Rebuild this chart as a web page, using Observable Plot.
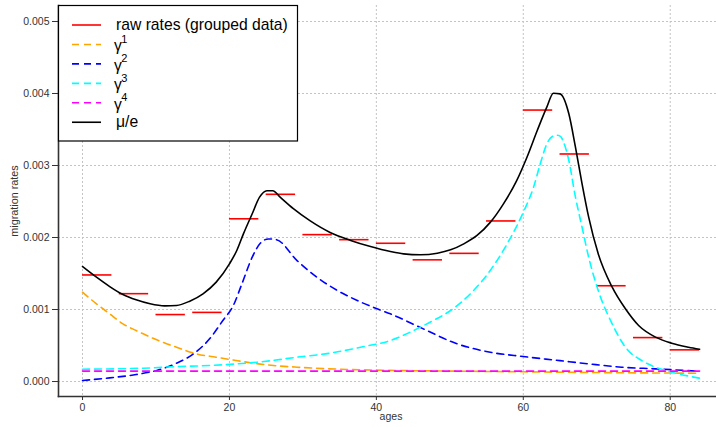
<!DOCTYPE html>
<html>
<head>
<meta charset="utf-8">
<script src="https://cdn.jsdelivr.net/npm/d3@7"></script>
<script src="https://cdn.jsdelivr.net/npm/@observablehq/plot@0.6"></script>
<style>
  html, body { margin: 0; padding: 0; background: white; }
  #chart svg { display: block; }
</style>
</head>
<body>
<div id="chart"></div>
<script>
// ---------- data ----------
const xTicks = [0, 20, 40, 60, 80];
const yTicks = [0, 0.001, 0.002, 0.003, 0.004, 0.005];

// raw rates (grouped data): 5-year groups
const groupStart = [0, 5, 10, 15, 20, 25, 30, 35, 40, 45, 50, 55, 60, 65, 70, 75, 80];
const groupEnd   = [4, 9, 14, 19, 24, 29, 34, 39, 44, 49, 54, 59, 64, 69, 74, 79, 84];
const rawRates = [0.00148, 0.00122, 0.00093, 0.00096, 0.00226, 0.00260, 0.00204, 0.00197, 0.00192,
                  0.00169, 0.00178, 0.00223, 0.00377, 0.00316, 0.00133, 0.00061, 0.00044];

// mu/e (black)
const muAges = [0, 1.9, 3.7, 5.5, 7.3, 9.2, 11.2, 12.8, 14.6, 16.4, 18.2, 20.0, 21.0, 21.9, 23.1, 24.1,
                25.1, 25.9, 26.9, 28.7, 31.0, 33.7, 36.5, 39.2, 41.9, 43.7, 46.0, 48.3, 50.1, 51.9,
                53.7, 55.5, 57.3, 59.1, 60.5, 61.9, 63.2, 64.1, 65.0, 66.2, 67.1, 68.0, 68.9, 70.2,
                72.1, 73.9, 75.7, 78.0, 80.2, 82.5, 84.0];
const muRates = [0.001597, 0.001449, 0.001319, 0.001208, 0.001134, 0.001079, 0.001051, 0.001056,
                 0.001116, 0.001218, 0.00138, 0.001634, 0.00182, 0.00205, 0.00233, 0.00256,
                 0.00265, 0.00265, 0.00256, 0.00240, 0.00223, 0.00207, 0.00196, 0.001875, 0.001806,
                 0.001773, 0.00176, 0.001782, 0.001829, 0.001912, 0.002028, 0.00221, 0.002468,
                 0.00279, 0.003115, 0.003486, 0.00381, 0.004004, 0.003995, 0.003718, 0.003254,
                 0.002745, 0.002282, 0.001773, 0.00131, 0.00101, 0.000778, 0.000616, 0.000532,
                 0.000477, 0.000449];

// gamma 1 (orange)
const g1Ages = [0, 1.9, 3.7, 5.5, 7.3, 10.1, 12.8, 15.5, 18.2, 20.9, 24.7, 29.2, 33.7, 38.3, 41.9, 50, 60, 70, 84];
const g1Rates = [0.00124, 0.001079, 0.00094, 0.000801, 0.000708, 0.000579, 0.000477, 0.000384, 0.000338,
                 0.000292, 0.000236, 0.000199, 0.000176, 0.000162, 0.000155, 0.000145, 0.000135,
                 0.000125, 0.000115];

// gamma 2 (blue)
const g2Ages = [0, 3.7, 7.3, 10.1, 12.8, 15.1, 17.3, 19.1, 20.5, 21.7, 23.1, 24.2, 25.3, 26.4, 29.2,
                31.9, 34.7, 37.4, 40.1, 41.9, 46.4, 51.0, 55.5, 60.0, 65.0, 68.9, 73.4, 78.0, 84];
const g2Rates = [0.000014, 0.000051, 0.000097, 0.000153, 0.000254, 0.000384, 0.000593, 0.000847,
                 0.00105, 0.001357, 0.001727, 0.00192, 0.00198, 0.00197, 0.00168, 0.001449,
                 0.001264, 0.001125, 0.00101, 0.00094, 0.000731, 0.000523, 0.000407, 0.000347,
                 0.00029, 0.000245, 0.000199, 0.000176, 0.000143];

// gamma 3 (cyan)
const g3Ages = [0, 8.3, 12.8, 17.3, 21.0, 24.7, 29.2, 33.7, 38.3, 41.9, 44.6, 47.3, 50.1, 52.8, 55.5,
                57.8, 60.0, 61.4, 62.3, 63.2, 63.9, 64.6, 65.1, 65.5, 66.2, 67.1, 68.0, 68.9, 70.2,
                72.1, 73.9, 76.1, 78.0, 80.2, 84];
const g3Rates = [0.000171, 0.000185, 0.000208, 0.000222, 0.000245, 0.000278, 0.000338, 0.000394,
                 0.000486, 0.000569, 0.000685, 0.000824, 0.000986, 0.001218, 0.001542, 0.001912,
                 0.00235, 0.0027, 0.00302, 0.0033, 0.0034, 0.00342, 0.0034, 0.00332, 0.00307,
                 0.00256, 0.002143, 0.001726, 0.001264, 0.000801, 0.000477, 0.000292, 0.000199,
                 0.00013, 0.000046];

// gamma 4 (magenta)
const g4Ages = [0, 84];
const g4Rates = [0.000145, 0.000145];

const legendLabels = ["raw rates (grouped data)", "γ", "γ", "γ", "γ", "μ/e"];
const legendSups = ["", "1", "2", "3", "4", ""];
const legendColors = ["red", "#ffa500", "#0000ff", "#00ffff", "#ff00ff", "black"];
const legendDash = [null, "7,5", "7,5", "7,5", "7,5", null];

// ---------- chart ----------
const dash = "7,5";
const lw = 1.6;
const chart = Plot.plot({
  width: 716,
  height: 427,
  marginLeft: 58,
  marginRight: 0,
  marginTop: 5,
  marginBottom: 31,
  style: {fontFamily: "'Liberation Sans', Arial, sans-serif", fontSize: "10px", color: "#333", background: "white"},
  x: {domain: [-3.27, 86.3]},
  y: {domain: [-0.000208, 0.005222]},
  marks: [
    Plot.gridX(xTicks, {stroke: "#c4c4c4", strokeOpacity: 1, strokeDasharray: "2,2"}),
    Plot.gridY(yTicks, {stroke: "#c4c4c4", strokeOpacity: 1, strokeDasharray: "2,2"}),
    Plot.axisX(xTicks, {tickSize: 4, tickPadding: 3, label: null, fontSize: 10.5, stroke: "#333"}),
    Plot.axisY(yTicks, {tickSize: 6, tickPadding: 3, label: null, tickFormat: d3.format(".3f"), fontSize: 10.5, stroke: "#333"}),
    Plot.ruleY(rawRates, {x1: groupStart, x2: groupEnd, y: d => d, stroke: "red", strokeWidth: 1.6}),
    Plot.line(g1Rates, {x: g1Ages, y: d => d, stroke: "#ffa500", strokeWidth: lw, strokeDasharray: dash, curve: "monotone-x"}),
    Plot.line(g2Rates, {x: g2Ages, y: d => d, stroke: "#0000ff", strokeWidth: lw, strokeDasharray: dash, curve: "monotone-x"}),
    Plot.line(g3Rates, {x: g3Ages, y: d => d, stroke: "#00ffff", strokeWidth: lw, strokeDasharray: dash, curve: "monotone-x"}),
    Plot.line(g4Rates, {x: g4Ages, y: d => d, stroke: "#ff00ff", strokeWidth: lw, strokeDasharray: dash}),
    Plot.line(muRates, {x: muAges, y: d => d, stroke: "black", strokeWidth: lw, curve: "monotone-x"}),
    Plot.frame({anchor: "left", stroke: "#333", strokeWidth: 1.6}),
    Plot.frame({anchor: "bottom", stroke: "#333", strokeWidth: 1.6})
  ]
});
document.getElementById("chart").appendChild(chart);

// ---------- axis titles and legend ----------
const svg = d3.select(chart);
svg.append("text")
  .attr("x", 391).attr("y", 420)
  .attr("text-anchor", "middle")
  .attr("font-size", 10.5).attr("fill", "#333")
  .text("ages");
svg.append("text")
  .attr("transform", "translate(18,201) rotate(-90)")
  .attr("text-anchor", "middle")
  .attr("font-size", 10.8).attr("fill", "#333")
  .text("migration rates");

const lg = svg.append("g").attr("text-anchor", "start");
lg.append("rect")
  .attr("x", 58.5).attr("y", 5.5).attr("width", 239).attr("height", 135.5)
  .attr("fill", "white").attr("stroke", "black").attr("stroke-width", 1.2);
legendLabels.forEach((lab, i) => {
  const ry = 25 + i * 19.45;
  const ln = lg.append("line")
    .attr("x1", 72).attr("x2", 101).attr("y1", ry).attr("y2", ry)
    .attr("stroke", legendColors[i]).attr("stroke-width", 1.6);
  if (legendDash[i]) ln.attr("stroke-dasharray", legendDash[i]);
  const t = lg.append("text")
    .attr("text-anchor", "start")
    .attr("x", legendSups[i] ? 114 : 116)
    .attr("y", ry + (legendSups[i] ? 6.8 : 5))
    .attr("font-size", 15.7).attr("fill", "black")
    .text(lab);
  if (legendSups[i]) {
    t.append("tspan").attr("dy", -8.5).attr("dx", -0.5).attr("font-size", 11).text(legendSups[i]);
  }
});
</script>
</body>
</html>
